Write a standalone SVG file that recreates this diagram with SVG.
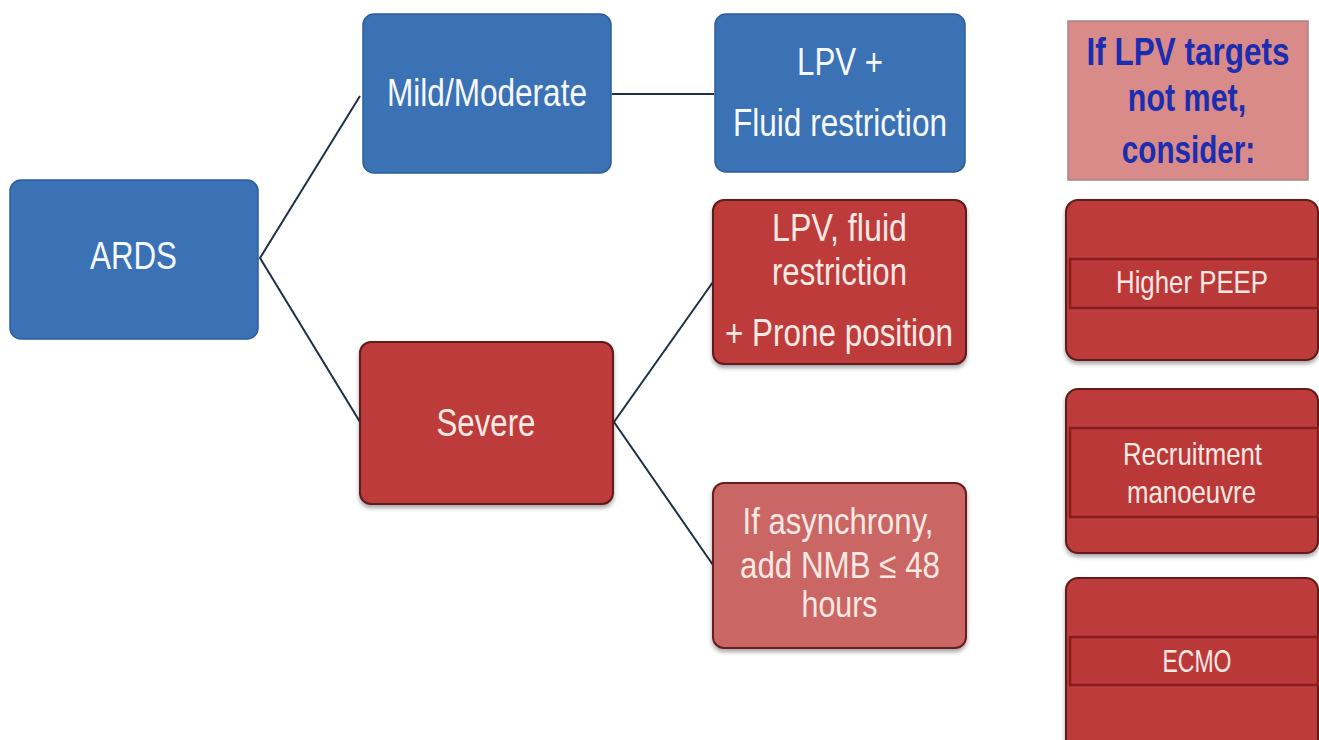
<svg xmlns="http://www.w3.org/2000/svg" width="1319" height="740" viewBox="0 0 1319 740">
<defs>
<filter id="sh" x="-10%" y="-10%" width="120%" height="125%">
<feDropShadow dx="0" dy="3" stdDeviation="2" flood-color="#000" flood-opacity="0.35"/>
</filter>
<style>
text{font-family:"Liberation Sans",Arial,sans-serif;text-anchor:middle}
.blue{fill:#3b71b5;stroke:#2d5e98;stroke-width:1.5}
.red{fill:#bd3a3a;stroke:#5e1a1a;stroke-width:2;filter:url(#sh)}
.pink{fill:#ca6663;stroke:#6a1f1f;stroke-width:2;filter:url(#sh)}
.hdr{fill:#d98b89;stroke:#a88584;stroke-width:1.5}
.band{fill:#bb3838;stroke:#861d1d;stroke-width:2.5}
.wt{fill:#f6f9ff;font-size:38px}
.rt{fill:#fce9e4;font-size:38px}
.nt{fill:#fce9e4;font-size:37px}
.st{fill:#fce9e4;font-size:32px}
.ht{fill:#1b2db0;font-size:39px;font-weight:bold}
.con{fill:none;stroke:#1e3048;stroke-width:2}
</style>
</defs>
<rect width="1319" height="740" fill="#ffffff"/>
<g id="connectors">
<path class="con" d="M360,96 L260,258 L360,422"/>
<path class="con" d="M612,94 L714,94"/>
<path class="con" d="M713,282 L614,422 L713,565"/>
</g>
<g id="ards">
<rect class="blue" x="10" y="180" width="248" height="159" rx="11"/>
<text class="wt" x="133.5" y="269" textLength="87" lengthAdjust="spacingAndGlyphs">ARDS</text>
</g>
<g id="mild">
<rect class="blue" x="363" y="14" width="248" height="159" rx="11"/>
<text class="wt" x="487" y="106" textLength="200" lengthAdjust="spacingAndGlyphs">Mild/Moderate</text>
</g>
<g id="lpv-fluid">
<rect class="blue" x="715" y="14" width="250" height="158" rx="11"/>
<text class="wt" x="840" y="75" textLength="86" lengthAdjust="spacingAndGlyphs">LPV +</text>
<text class="wt" x="840" y="136" textLength="214" lengthAdjust="spacingAndGlyphs">Fluid restriction</text>
</g>
<g id="severe">
<rect class="red" x="360" y="342" width="253" height="162" rx="11"/>
<text class="rt" x="486" y="436" textLength="99" lengthAdjust="spacingAndGlyphs">Severe</text>
</g>
<g id="lpv-prone">
<rect class="red" x="713" y="200" width="253" height="164" rx="11"/>
<text class="rt" x="839.5" y="241" textLength="135" lengthAdjust="spacingAndGlyphs">LPV, fluid</text>
<text class="rt" x="839.5" y="285" textLength="135" lengthAdjust="spacingAndGlyphs">restriction</text>
<text class="rt" x="839" y="346" textLength="228" lengthAdjust="spacingAndGlyphs">+ Prone position</text>
</g>
<g id="nmb">
<rect class="pink" x="713" y="483" width="253" height="165" rx="11"/>
<text class="nt" x="838" y="534" textLength="191" lengthAdjust="spacingAndGlyphs">If asynchrony,</text>
<text class="nt" x="840" y="578" textLength="200" lengthAdjust="spacingAndGlyphs">add NMB ≤ 48</text>
<text class="nt" x="839.5" y="617" textLength="76" lengthAdjust="spacingAndGlyphs">hours</text>
</g>
<g id="header">
<rect class="hdr" x="1068" y="21" width="240" height="159"/>
<text class="ht" transform="translate(1188,65) scale(0.807,1)">If LPV targets</text>
<text class="ht" transform="translate(1187,111) scale(0.78,1)">not met,</text>
<text class="ht" transform="translate(1188.5,163) scale(0.76,1)">consider:</text>
</g>
<g id="peep">
<rect class="red" x="1066" y="200" width="252" height="160" rx="12"/>
<rect class="band" x="1070" y="259" width="248" height="49"/>
<text class="st" x="1192" y="293" textLength="152" lengthAdjust="spacingAndGlyphs">Higher PEEP</text>
</g>
<g id="recruitment">
<rect class="red" x="1066" y="389" width="252" height="164" rx="12"/>
<rect class="band" x="1070" y="428" width="248" height="89"/>
<text class="st" x="1192.5" y="465" textLength="139" lengthAdjust="spacingAndGlyphs">Recruitment</text>
<text class="st" x="1191.5" y="503" textLength="129" lengthAdjust="spacingAndGlyphs">manoeuvre</text>
</g>
<g id="ecmo">
<rect class="red" x="1066" y="578" width="252" height="180" rx="12"/>
<rect class="band" x="1070" y="637" width="248" height="48"/>
<text class="st" x="1197" y="672" textLength="69" lengthAdjust="spacingAndGlyphs">ECMO</text>
</g>
</svg>
